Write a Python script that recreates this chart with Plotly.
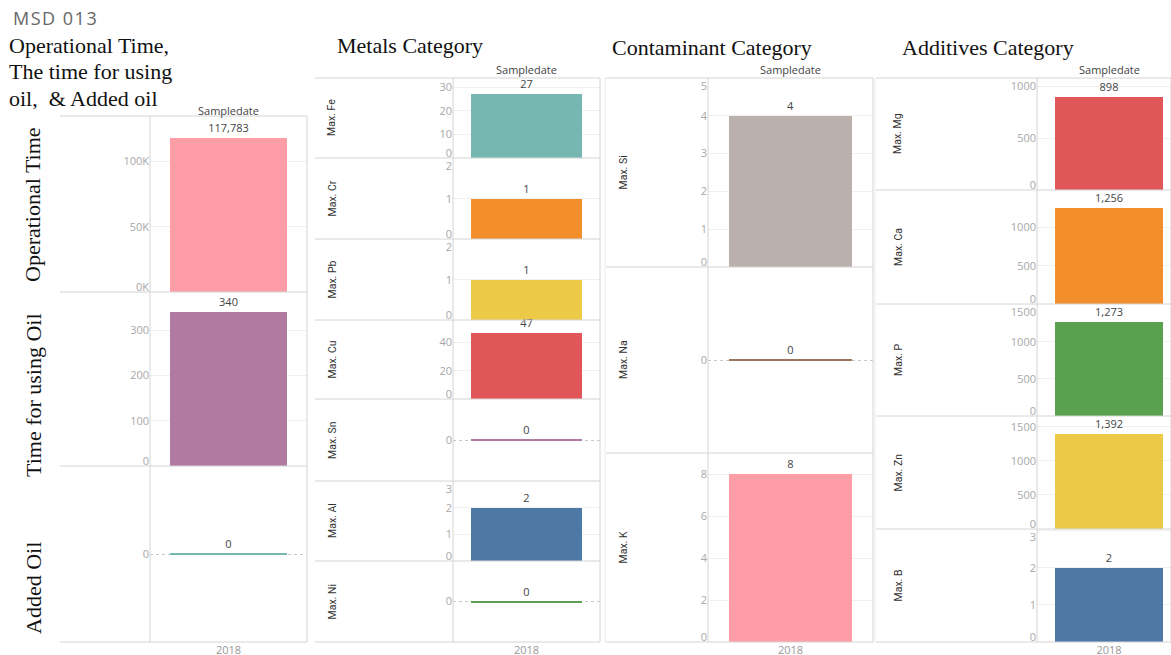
import plotly.graph_objects as go

W, H = 1171, 655

# ---- data -------------------------------------------------------------
year = ["2018"]

usage_names = ["Operational Time", "Time for using Oil", "Added Oil"]
usage_values = [117783, 340, 0]
usage_colors = ["#FF9DA7", "#B07AA1", "#76B7B2"]

metal_names = ["Max. Fe", "Max. Cr", "Max. Pb", "Max. Cu", "Max. Sn", "Max. Al", "Max. Ni"]
metal_values = [27, 1, 1, 47, 0, 2, 0]
metal_colors = ["#76B7B2", "#F28E2B", "#EDC948", "#E15759", "#B07AA1", "#4E79A7", "#59A14F"]

contaminant_names = ["Max. Si", "Max. Na", "Max. K"]
contaminant_values = [4, 0, 8]
contaminant_colors = ["#BAB0AC", "#9C755F", "#FF9DA7"]

additive_names = ["Max. Mg", "Max. Ca", "Max. P", "Max. Zn", "Max. B"]
additive_values = [898, 1256, 1273, 1392, 2]
additive_colors = ["#E15759", "#F28E2B", "#59A14F", "#EDC948", "#4E79A7"]

optime_tickvals = [0, 50000, 100000]
optime_ticktext = ["0K", "50K", "100K"]

# ---- layout of the four panels (pixel positions) -----------------------
panels = [
    dict(names=usage_names, values=usage_values, colors=usage_colors,
         plot_x=(150, 307), frame_x=(60, 307), rows=[116, 292, 466, 642],
         ranges=[(0, 135000), (0, 385), (-1, 1)], dticks=[50000, 100, None],
         header_y=110, xrange=None, big_labels=True, left_line=False),
    dict(names=metal_names, values=metal_values, colors=metal_colors,
         plot_x=(453, 600), frame_x=(315, 600), rows=[78, 158, 239, 320, 399, 481, 561, 642],
         ranges=[(0, 34), (0, 2.02), (0, 2.02), (0, 56), (-1, 1), (0, 3.0), (-1, 1)],
         dticks=[10, 1, 1, 20, None, 1, None],
         header_y=70, xrange=None, big_labels=False, label_x=332, left_line=False),
    dict(names=contaminant_names, values=contaminant_values, colors=contaminant_colors,
         plot_x=(708, 873), frame_x=(606, 873), rows=[78, 267, 453, 642],
         ranges=[(0, 5.0), (-1, 1), (0, 9)], dticks=[1, None, 2],
         header_y=70, xrange=None, big_labels=False, label_x=623, left_line=True),
    dict(names=additive_names, values=additive_values, colors=additive_colors,
         plot_x=(1037, 1171), frame_x=(876, 1171), rows=[78, 190, 304, 416, 529, 642],
         ranges=[(0, 1077), (0, 1490), (0, 1510), (0, 1660), (0, 3.05)],
         dticks=[500, 500, 500, 500, 1],
         header_y=70, xrange=(-0.5, 0.43), big_labels=False, label_x=898, left_line=True),
]
big_label_y = [205, 395, 588]


def px_x(x):
    return x / W


def px_y(y):
    return 1 - y / H


def fmt_tick(v, panel_idx, row_idx):
    if panel_idx == 0 and row_idx == 0:
        return optime_ticktext[optime_tickvals.index(v)]
    return f"{v:g}"


fig = go.Figure()
layout = {}
shapes = []
annotations = []

LINE = "#d4d4d4"
TICKFONT = dict(size=11, color="#a8a8a8", family="Open Sans")
k = 0            # subplot counter
extra = 100      # ids for label-only overlay axes
for pi, p in enumerate(panels):
    x0, x1 = p["plot_x"]
    rows = p["rows"]
    n = len(p["names"])
    for i in range(n):
        k += 1
        top, bottom = rows[i], rows[i + 1]
        val = p["values"][i]
        lo, hi = p["ranges"][i]
        xa = "xaxis" if k == 1 else f"xaxis{k}"
        ya = "yaxis" if k == 1 else f"yaxis{k}"
        xr = "x" if k == 1 else f"x{k}"
        yr = "y" if k == 1 else f"y{k}"

        fig.add_trace(go.Bar(
            x=year, y=[val], width=0.75,
            marker=dict(color=p["colors"][i],
                        line=dict(color=p["colors"][i], width=2 if val == 0 else 0)),
            text=[val], texttemplate="%{y:,}", textposition="outside",
            textfont=dict(size=11, color="#444", family="Open Sans"),
            cliponaxis=False, xaxis=xr, yaxis=yr, hoverinfo="skip",
        ))

        xaxis = dict(domain=[px_x(x0), px_x(x1)], anchor=yr, type="category",
                     showgrid=False, showline=False, zeroline=False, ticks="",
                     showticklabels=(i == n - 1), fixedrange=True, automargin=False,
                     tickfont=dict(size=11, color="#999", family="Open Sans"))
        if p["xrange"]:
            xaxis["range"] = list(p["xrange"])
        layout[xa] = xaxis

        yaxis = dict(domain=[px_y(bottom), px_y(top)], anchor=xr, range=[lo, hi],
                     showline=False, zeroline=False, ticks="", fixedrange=True,
                     automargin=False, tickfont=TICKFONT,
                     showgrid=True, gridcolor="#f0f0f0", gridwidth=1)
        if lo < 0:
            yaxis.update(tickvals=[0], ticktext=["0"], gridcolor="#c8c8c8", griddash="dot")
            layout[ya] = yaxis
        else:
            step = p["dticks"][i]
            ticks = []
            v = 0
            while v <= hi + 1e-9:
                ticks.append(v)
                v += step
            ppu = (bottom - top) / (hi - lo)
            interior, edge_shift = [], []
            for v in ticks:
                tick_px = bottom - (v - lo) * ppu
                if v == lo:
                    edge_shift.append((v, -5))          # nudge up
                elif tick_px - top < 7:
                    edge_shift.append((v, round(top + 7.5 - tick_px)))  # nudge down
                else:
                    interior.append(v)
            yaxis.update(tickvals=ticks, ticktext=[fmt_tick(t, pi, i) if t in interior else ""
                                                  for t in ticks])
            layout[ya] = yaxis
            # edge labels are nudged inside the pane via label-only axes
            for v, shift in edge_shift:
                extra += 1
                layout[f"yaxis{extra}"] = dict(
                    overlaying=yr, anchor=xr, side="left", range=[lo, hi],
                    showgrid=False, zeroline=False, showline=False, ticks="",
                    tickvals=[v], ticktext=[fmt_tick(v, pi, i)], ticklabelshift=shift,
                    tickfont=TICKFONT, fixedrange=True, automargin=False)
                fig.add_trace(go.Scatter(x=[], y=[], xaxis=xr, yaxis=f"y{extra}",
                                         mode="markers", hoverinfo="skip"))

        # row label
        if p["big_labels"]:
            annotations.append(dict(
                text=p["names"][i], x=px_x(33), y=px_y(big_label_y[i]),
                xref="paper", yref="paper", showarrow=False, textangle=-90,
                font=dict(family="Liberation Serif, DejaVu Serif, serif", size=22, color="#111"),
                xanchor="center", yanchor="middle"))
        else:
            annotations.append(dict(
                text=p["names"][i], x=px_x(p["label_x"]), y=px_y((top + bottom) / 2),
                xref="paper", yref="paper", showarrow=False, textangle=-90,
                font=dict(family="Liberation Sans Narrow, Roboto, sans-serif",
                          size=10.5, color="#333"),
                xanchor="center", yanchor="middle"))

    # frame lines
    fx0, fx1 = p["frame_x"]
    for y in rows:
        shapes.append(dict(type="line", xref="paper", yref="paper",
                           x0=px_x(fx0), x1=px_x(fx1), y0=px_y(y), y1=px_y(y),
                           line=dict(color=LINE, width=1)))
    for xv in (x0, fx1):
        shapes.append(dict(type="line", xref="paper", yref="paper",
                           x0=px_x(xv), x1=px_x(xv), y0=px_y(rows[0]), y1=px_y(rows[-1]),
                           line=dict(color=LINE, width=1)))
    if p["left_line"]:
        shapes.append(dict(type="line", xref="paper", yref="paper",
                           x0=px_x(fx0 - 1), x1=px_x(fx0 - 1), y0=px_y(rows[0]), y1=px_y(rows[-1]),
                           line=dict(color="#ececec", width=1)))

    # column header
    if p["xrange"] is None:
        cx = (x0 + x1) / 2
    else:
        r0, r1 = p["xrange"]
        cx = x0 + (0 - r0) / (r1 - r0) * (x1 - x0)
    annotations.append(dict(text="Sampledate", x=px_x(cx), y=px_y(p["header_y"]),
                            xref="paper", yref="paper", showarrow=False,
                            font=dict(family="Open Sans", size=11, color="#444"),
                            xanchor="center", yanchor="middle"))

# titles
serif = "Liberation Serif, DejaVu Serif, serif"
titles = [
    ("Operational Time,", 7, 46),
    ("The time for using", 7, 72),
    ("oil,&nbsp; &amp; Added oil", 7, 99),
    ("Metals Category", 335, 46),
    ("Contaminant Category", 610, 47),
    ("Additives Category", 900, 48),
]
for t, x, y in titles:
    annotations.append(dict(text=t, x=px_x(x), y=px_y(y),
                            xref="paper", yref="paper", showarrow=False,
                            font=dict(family=serif, size=22, color="#111"),
                            xanchor="left", yanchor="middle"))

annotations.append(dict(text="<span style='letter-spacing:1.5px'>MSD 013</span>",
                        x=px_x(11), y=px_y(18), xref="paper", yref="paper",
                        showarrow=False, font=dict(family="Open Sans", size=18, color="#666"),
                        xanchor="left", yanchor="middle"))

fig.update_layout(
    template="none",
    width=W, height=H, autosize=False,
    margin=dict(l=0, r=0, t=0, b=0, pad=0),
    paper_bgcolor="white", plot_bgcolor="white",
    showlegend=False, bargap=0,
    font=dict(family="Open Sans", color="#444"),
    shapes=shapes, annotations=annotations,
    **layout,
)

fig.write_html("out.html")
